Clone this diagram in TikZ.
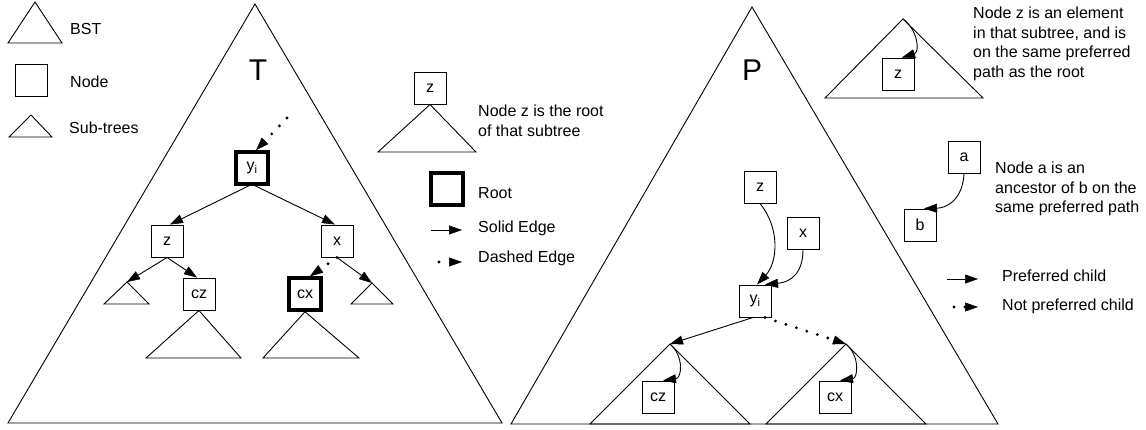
\documentclass[tikz,border=0pt]{standalone}
\usepackage{fontspec}
\setmainfont{Liberation Sans}
\usetikzlibrary{arrows.meta}
\begin{document}
\begin{tikzpicture}[x=1pt,y=-1pt,
  every node/.style={font=\fontsize{16}{19.5}\selectfont},
  line/.style={line width=0.9pt,line join=miter},
  box/.style={draw,line width=1pt,minimum width=32pt,minimum height=32pt,inner sep=0pt},
  rootbox/.style={box,line width=3.5pt},
  arr/.style={line width=0.9pt,-{Triangle[length=13pt,width=9pt,line width=0.5pt]}},
  dotarr/.style={line width=3.2pt,line cap=round,dash pattern=on 0pt off 11pt,-{Triangle[length=13pt,width=9pt,line width=0.5pt]}},
  lbl/.style={anchor=west,align=left,inner sep=0pt},
  big/.style={font=\fontsize{30}{32}\selectfont},
]
\useasboundingbox (0,0) rectangle (1146,429);

% ---------- left legend
\draw[line] (35,2) -- (62,43) -- (8,43) -- cycle;
\node[lbl] (tBST) at (70,29) {BST};
\node[box] (legNode) at (31,80) {};
\node[lbl] (tNode) at (70,82) {Node};
\draw[line] (31,115) -- (52,137) -- (9,137) -- cycle;
\node[lbl] (tSub) at (69,128) {Sub-trees};

% ---------- T tree
\draw[line] (255,4) -- (502,423) -- (8,423) -- cycle;
\node[big] (labT) at (258,70) {T};

\node[rootbox] (ty) at (252,168) {y\textsubscript{i}};
\node[box] (tz) at (167,241) {z};
\node[box] (tx) at (337,241) {x};
\node[box] (tcz) at (199,294) {cz};
\node[rootbox] (tcx) at (305,294) {cx};

\coordinate (tlsub) at (127,282);
\coordinate (trsub) at (372,283);
\draw[line] (tlsub) -- (149,304) -- (104,304) -- cycle;
\draw[line] (trsub) -- (393,304) -- (351,304) -- cycle;
\draw[line] (tcz.south) -- (241,358) -- (146,358) -- cycle;
\draw[line] (tcx.south) -- (359,358) -- (263,358) -- cycle;

\coordinate (tdotstart) at (287,118);
\draw[dotarr] (tdotstart) -- ([xshift=4pt]ty.north);
\draw[arr] ([xshift=-3pt]ty.south) -- ([xshift=3pt]tz.north);
\draw[arr] ([xshift=3pt]ty.south) -- ([xshift=-2pt]tx.north);
\draw[arr] (tz.south) -- (tlsub);
\draw[arr] (tz.south) -- ([xshift=-2pt]tcz.north);
\draw[arr] (tx.south) -- (trsub);
\draw[dotarr] (tx.south) -- ([xshift=5pt]tcx.north);

% ---------- middle legend
\node[box] (lz) at (430,88) {z};
\draw[line] (lz.south) -- (476,152) -- (378,152) -- cycle;
\node[lbl] (tRootOf) at (478,121) {Node z is the root\\of that subtree};
\node[rootbox] (lroot) at (447,189) {};
\node[lbl] (tRoot) at (478,193) {Root};
\coordinate (ls1) at (431,230);
\coordinate (ls2) at (462,230);
\draw[arr] (ls1) -- (ls2);
\node[lbl] (tSolid) at (478,228) {Solid Edge};
\coordinate (ld1) at (439,262);
\coordinate (ld2) at (462,262);
\draw[dotarr] (ld1) -- (ld2);
\node[lbl] (tDashed) at (478,258) {Dashed Edge};

% ---------- P tree
\draw[line] (752,7) -- (998,424) -- (511,424) -- cycle;
\node[big] (labP) at (752,70) {P};
\coordinate (czapex) at (670,344);
\coordinate (cxapex) at (846,344);
\draw[line] (czapex) -- (750,424) -- (590,424) -- cycle;
\draw[line] (cxapex) -- (926,424) -- (766,424) -- cycle;

\node[box] (pz) at (760,187) {z};
\node[box] (px) at (803,233) {x};
\node[box] (py) at (755,301) {y\textsubscript{i}};
\node[box] (pcz) at (658,397) {cz};
\node[box] (pcx) at (835,397) {cx};

\draw[arr] (pz.south) .. controls (780,228) and (778,262) .. ([xshift=2pt]py.north);
\draw[arr] (px.south) .. controls (803,272) and (792,282) .. ([xshift=10pt]py.north);
\draw[arr] ([xshift=-2pt]py.south) -- (czapex);
\draw[dotarr] ([xshift=10pt]py.south) -- (cxapex);
\draw[arr] (czapex) .. controls (684,356) and (682,378) .. ([xshift=5pt]pcz.north);
\draw[arr] (cxapex) .. controls (860,356) and (858,378) .. ([xshift=5pt]pcx.north);

% ---------- right legend
\coordinate (rtop) at (903,19);
\draw[line] (rtop) -- (983,98) -- (825,98) -- cycle;
\node[box] (rz) at (898,74) {z};
\draw[arr] (rtop) .. controls (918,30) and (920,52) .. ([xshift=4pt]rz.north);
\node[lbl] (tElem) at (973,44) {Node z is an element\\in that subtree, and is\\on the same preferred\\path as the root};

\node[box] (ra) at (964,157) {a};
\node[box] (rb) at (920,225) {b};
\draw[arr] (ra.south) .. controls (963,198) and (948,208) .. ([xshift=4pt]rb.north);
\node[lbl] (tAnc) at (995,189) {Node a is an\\ancestor of b on the\\same preferred path};

\coordinate (rp1) at (947,279);
\coordinate (rp2) at (978,279);
\draw[arr] (rp1) -- (rp2);
\node[lbl] (tPref) at (1002,276) {Preferred child};
\coordinate (rn1) at (954,307);
\coordinate (rn2) at (978,307);
\draw[dotarr] (rn1) -- (rn2);
\node[lbl] (tNotPref) at (1002,306) {Not preferred child};
\end{tikzpicture}
\end{document}
